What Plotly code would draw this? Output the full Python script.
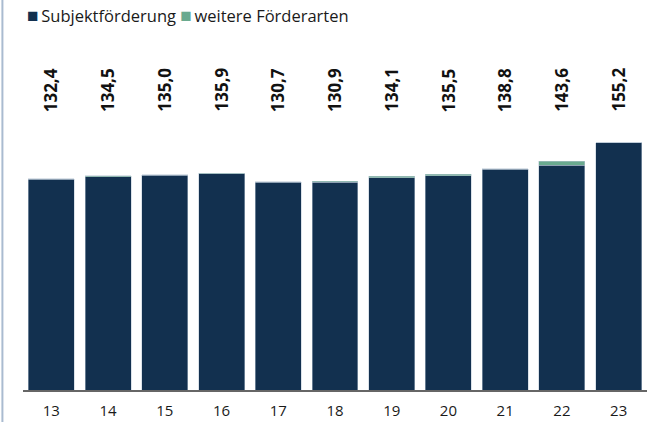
import plotly.graph_objects as go

years = ["13", "14", "15", "16", "17", "18", "19", "20", "21", "22", "23"]
totals = [132.4, 134.5, 135.0, 135.9, 130.7, 130.9, 134.1, 135.5, 138.8, 143.6, 155.2]
weitere = [0.3, 0.6, 0.4, 0.3, 0.3, 0.6, 0.8, 1.0, 0.2, 2.5, 0.2]
subjekt = [round(t - w, 1) for t, w in zip(totals, weitere)]
label_texts = [f"{t:.1f}".replace(".", ",") for t in totals]
series_names = ["Subjektförderung", "weitere Förderarten"]

NAVY = "#12304f"
GREEN = "#6aaa8f"
FONT = "Open Sans"

fig = go.Figure()
fig.add_trace(go.Bar(x=years, y=subjekt, name=series_names[0],
                     marker=dict(color=NAVY, line=dict(color="#b8c6d4", width=0.5))))
fig.add_trace(go.Bar(x=years, y=weitere, name=series_names[1],
                     marker=dict(color=GREEN, line=dict(color="#b8c6d4", width=0.5))))

for i, txt in enumerate(label_texts):
    fig.add_annotation(x=i, y=173.2, text=f"<b>{txt}</b>", textangle=-90,
                       showarrow=False, yanchor="bottom", xanchor="center",
                       font=dict(family=FONT, size=17, color="#111111"))

sq = '<span style="color:{c};font-size:19px">■</span>&#8201;'
legend_text = (sq.format(c=NAVY) + series_names[0] + " "
               + sq.format(c=GREEN) + series_names[1])
fig.add_annotation(xref="paper", yref="paper", x=0.004, y=1.071, xanchor="left", yanchor="middle",
                   text=legend_text, showarrow=False,
                   font=dict(family=FONT, size=16.5, color="#1a1a1a"))

fig.add_shape(type="line", xref="paper", yref="paper", x0=-0.033, x1=-0.033,
              y0=-0.1, y1=1.2, line=dict(color="#aabbd0", width=2))

fig.update_layout(
    width=648, height=422,
    barmode="stack", bargap=0.19, showlegend=False,
    plot_bgcolor="white", paper_bgcolor="white",
    margin=dict(l=23, r=1, t=40, b=32),
    font=dict(family=FONT, size=13, color="#1a1a1a"),
    xaxis=dict(type="category", range=[-0.5, 10.5], showline=True, linecolor="#666666",
               linewidth=1.5, ticks="", ticklabelstandoff=6,
               tickfont=dict(family=FONT, size=15, color="#1a1a1a"), showgrid=False),
    yaxis=dict(range=[0, 219.6], visible=False, showgrid=False),
)
fig.write_html("out.html", config={"displayModeBar": False},
               post_script="document.body.style.margin='0';")
